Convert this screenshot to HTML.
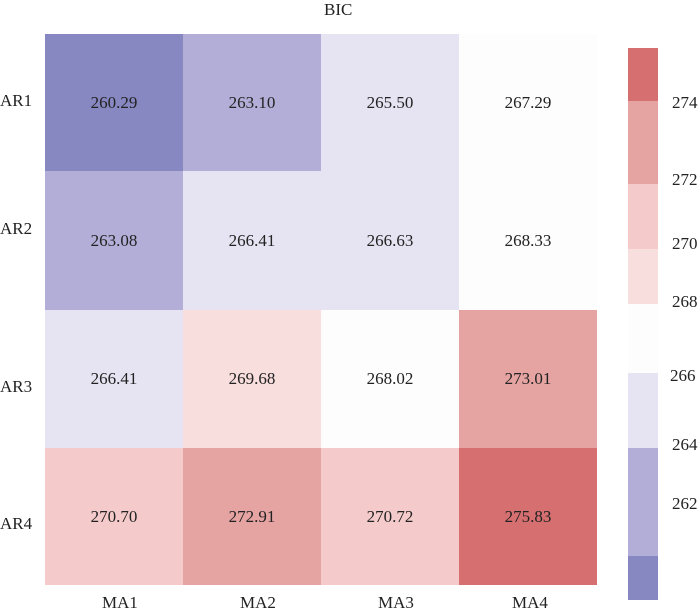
<!DOCTYPE html><html><head><style>
body{margin:0;width:700px;height:609px;background:#fff;position:relative;overflow:hidden;font-family:"Liberation Serif",serif;color:#222}
.c,.t,.l{position:absolute}
.c{display:flex;align-items:center;justify-content:center;font-size:17px}
.t{font-size:17px}
</style></head><body>
<div class="t" style="left:324px;top:0px">BIC</div>
<div class="c" style="left:45px;top:34px;width:138px;height:137px;background:#8787c2">260.29</div>
<div class="c" style="left:183px;top:34px;width:138px;height:137px;background:#b3aed7">263.10</div>
<div class="c" style="left:321px;top:34px;width:138px;height:137px;background:#e6e4f3">265.50</div>
<div class="c" style="left:459px;top:34px;width:138px;height:137px;background:#fdfdfe">267.29</div>
<div class="c" style="left:45px;top:171px;width:138px;height:139px;background:#b3aed7">263.08</div>
<div class="c" style="left:183px;top:171px;width:138px;height:139px;background:#e6e4f3">266.41</div>
<div class="c" style="left:321px;top:171px;width:138px;height:139px;background:#e6e4f3">266.63</div>
<div class="c" style="left:459px;top:171px;width:138px;height:139px;background:#fdfdfe">268.33</div>
<div class="c" style="left:45px;top:310px;width:138px;height:138px;background:#e6e4f3">266.41</div>
<div class="c" style="left:183px;top:310px;width:138px;height:138px;background:#f8dedd">269.68</div>
<div class="c" style="left:321px;top:310px;width:138px;height:138px;background:#fdfdfe">268.02</div>
<div class="c" style="left:459px;top:310px;width:138px;height:138px;background:#e5a3a2">273.01</div>
<div class="c" style="left:45px;top:448px;width:138px;height:137px;background:#f4cbca">270.70</div>
<div class="c" style="left:183px;top:448px;width:138px;height:137px;background:#e5a3a2">272.91</div>
<div class="c" style="left:321px;top:448px;width:138px;height:137px;background:#f4cbca">270.72</div>
<div class="c" style="left:459px;top:448px;width:138px;height:137px;background:#d56f70">275.83</div>
<div class="t" style="left:0;top:91px">AR1</div>
<div class="t" style="left:0;top:219px">AR2</div>
<div class="t" style="left:0;top:377px">AR3</div>
<div class="t" style="left:0;top:514px">AR4</div>
<div class="t" style="left:102px;top:593px">MA1</div>
<div class="t" style="left:240px;top:593px">MA2</div>
<div class="t" style="left:378px;top:593px">MA3</div>
<div class="t" style="left:512px;top:593px">MA4</div>
<div class="l" style="left:628px;top:48px;width:30px;height:53px;background:#d56f70"></div>
<div class="l" style="left:628px;top:101px;width:30px;height:83px;background:#e5a3a2"></div>
<div class="l" style="left:628px;top:184px;width:30px;height:65px;background:#f4cbca"></div>
<div class="l" style="left:628px;top:249px;width:30px;height:55px;background:#f8dedd"></div>
<div class="l" style="left:628px;top:304px;width:30px;height:69px;background:#fdfdfe"></div>
<div class="l" style="left:628px;top:373px;width:30px;height:75px;background:#e6e4f3"></div>
<div class="l" style="left:628px;top:448px;width:30px;height:108px;background:#b3aed7"></div>
<div class="l" style="left:628px;top:556px;width:30px;height:44px;background:#8787c2"></div>
<div class="t" style="left:672px;top:93px">274</div>
<div class="t" style="left:672px;top:170px">272</div>
<div class="t" style="left:672px;top:234px">270</div>
<div class="t" style="left:672px;top:292px">268</div>
<div class="t" style="left:670px;top:366px">266</div>
<div class="t" style="left:672px;top:435px">264</div>
<div class="t" style="left:672px;top:494px">262</div>
</body></html>
